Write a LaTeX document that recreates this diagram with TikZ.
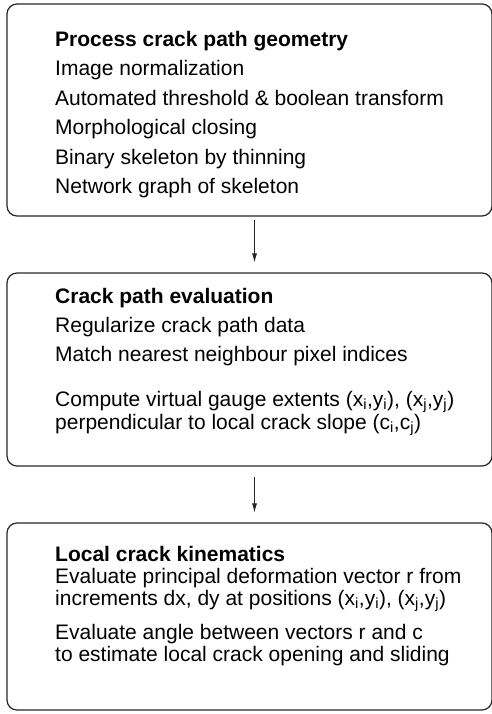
\documentclass[tikz,border=0pt]{standalone}
\usepackage{fontspec}
\setmainfont{Liberation Sans}
\usetikzlibrary{arrows.meta}

\begin{document}
\begin{tikzpicture}[x=1pt,y=1pt,
    stage/.style={draw=black!85,line width=1.2pt,rounded corners=10pt,minimum width=485pt,inner sep=0pt},
    steps/.style={anchor=north west,align=left,inner sep=0pt,font=\fontsize{21}{22}\selectfont},
    flow/.style={-{Latex[length=9pt,width=5pt]},line width=0.8pt,draw=black!85}]
  \useasboundingbox (0,0) rectangle (491,-714);
  % the three stages
  \node[stage,minimum height=212pt] (geom) at (249.5,-110) {};
  \node[stage,minimum height=193pt] (eval) at (249.5,-369.5) {};
  \node[stage,minimum height=187pt] (kin) at (249.5,-616.5) {};
  % what each stage does
  \node[steps] (geomtxt) at (55,-31) {\textbf{Process crack path geometry}\\[7.4pt]
    Image normalization\\[7.4pt]
    Automated threshold \& boolean transform\\[7.4pt]
    Morphological closing\\[7.4pt]
    Binary skeleton by thinning\\[7.4pt]
    Network graph of skeleton};
  \node[steps] (evaltxt) at (55,-288) {\textbf{Crack path evaluation}\\[7pt]
    Regularize crack path data\\[7pt]
    Match nearest neighbour pixel indices\\[23pt]
    Compute virtual gauge extents (x\textsubscript{i},y\textsubscript{i}), (x\textsubscript{j},y\textsubscript{j})\\[1pt]
    perpendicular to local crack slope (c\textsubscript{i},c\textsubscript{j})};
  \node[steps] (kintxt) at (55,-546) {\textbf{Local crack kinematics}\\
    Evaluate principal deformation vector r from\\
    increments dx, dy at positions (x\textsubscript{i},y\textsubscript{i}), (x\textsubscript{j},y\textsubscript{j})\\[12pt]
    Evaluate angle between vectors r and c\\
    to estimate local crack opening and sliding};
  % arrows between stages
  \draw[flow,shorten <=3pt,shorten >=10pt] ([xshift=5pt]geom.south) -- ([xshift=5pt]eval.north);
  \draw[flow,shorten <=10pt,shorten >=10pt] ([xshift=5pt]eval.south) -- ([xshift=5pt]kin.north);
\end{tikzpicture}
\end{document}
